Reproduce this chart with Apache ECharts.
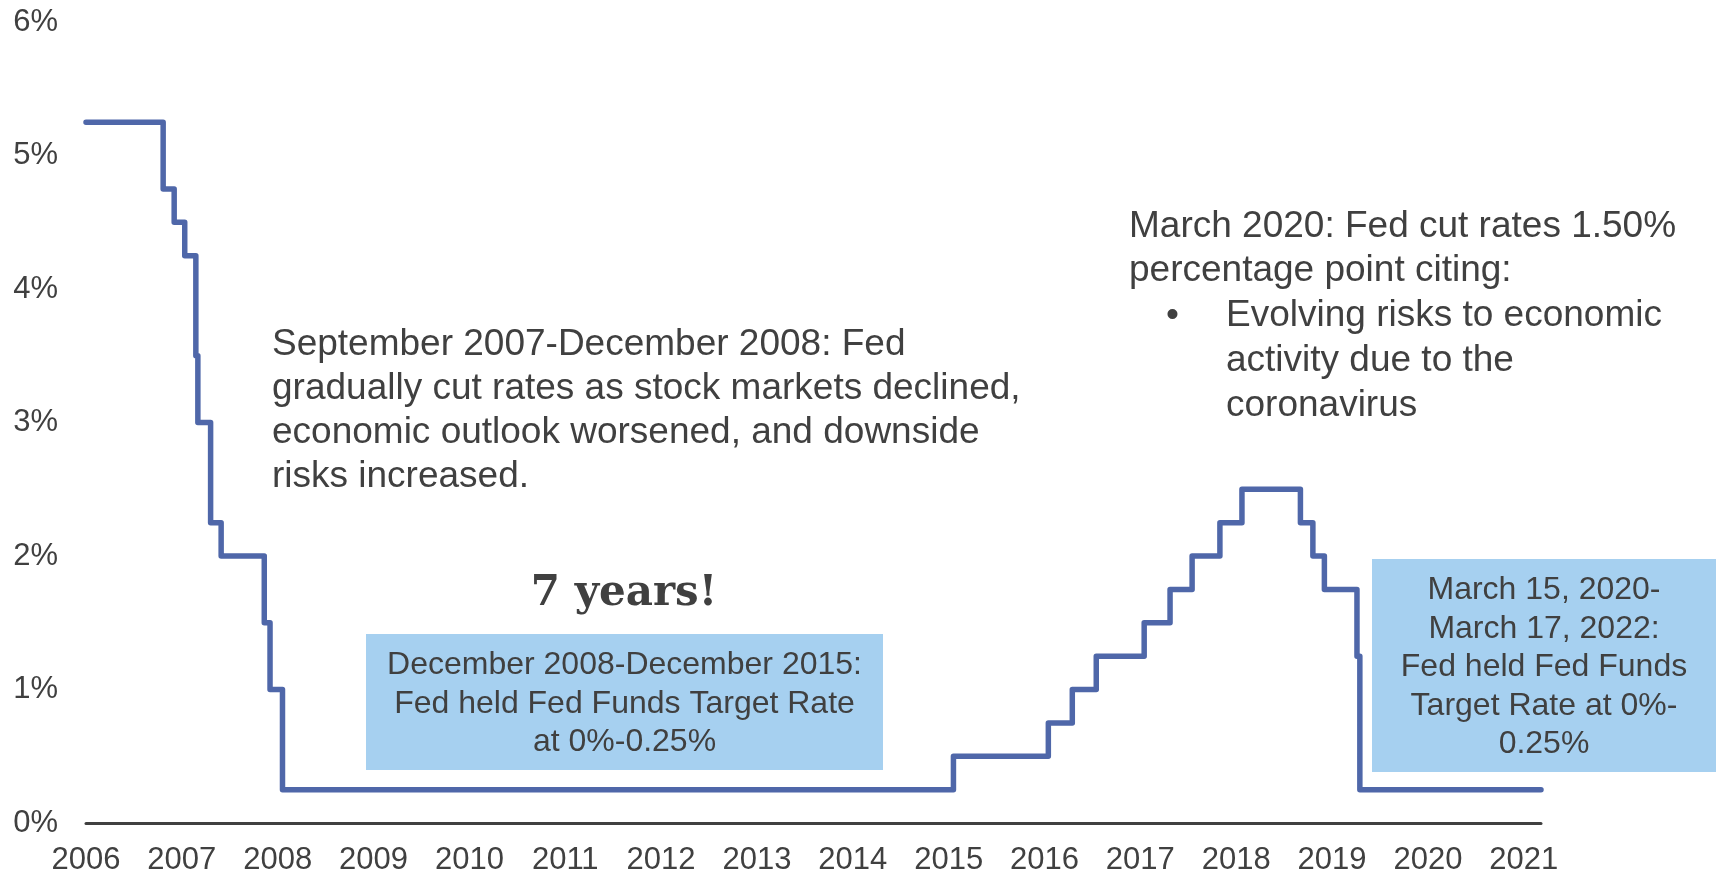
<!DOCTYPE html>
<html>
<head>
<meta charset="utf-8">
<script src="https://cdn.jsdelivr.net/npm/echarts@6/dist/echarts.min.js"></script>
<style>
  html, body { margin: 0; padding: 0; background: #ffffff; }
  #chart { width: 1716px; height: 876px; }
</style>
</head>
<body>
<div id="chart"></div>
<script>
// Fed Funds target rate (upper bound), step changes, x in the chart's year units
const changeDates = [2006.00, 2006.805, 2006.92, 2007.03, 2007.146, 2007.167, 2007.30, 2007.41,
  2007.86, 2007.92, 2008.05, 2015.05, 2016.04, 2016.29, 2016.54, 2017.04, 2017.31, 2017.54,
  2017.83, 2018.06, 2018.67, 2018.80, 2018.92, 2019.26, 2019.29, 2021.18];
const rates = [5.25, 4.75, 4.5, 4.25, 3.5, 3.0, 2.25, 2.0,
  1.5, 1.0, 0.25, 0.5, 0.75, 1.0, 1.25, 1.5, 1.75, 2.0,
  2.25, 2.5, 2.25, 2.0, 1.75, 1.25, 0.25, 0.25];
const yearTicks = [2006, 2007, 2008, 2009, 2010, 2011, 2012, 2013, 2014, 2015, 2016, 2017, 2018, 2019, 2020, 2021];
const yTicks = [0, 1, 2, 3, 4, 5, 6];

const note1 = ['September 2007-December 2008: Fed', 'gradually cut rates as stock markets declined,',
  'economic outlook worsened, and downside', 'risks increased.'];
const note2a = ['March 2020: Fed cut rates 1.50%', 'percentage point citing:'];
const note2b = ['Evolving risks to economic', 'activity due to the', 'coronavirus'];
const box1 = ['December 2008-December 2015:', 'Fed held Fed Funds Target Rate', 'at 0%-0.25%'];
const box2 = ['March 15, 2020-', 'March 17, 2022:', 'Fed held Fed Funds', 'Target Rate at 0%-', '0.25%'];
const bigNote = '7 years!';

const TXT = '#404040';
const FONT = '"Liberation Sans", Arial, sans-serif';
const BOX = '#A6D0F0';

const chart = echarts.init(document.getElementById('chart'), null, { renderer: 'canvas' });
chart.setOption({
  animation: false,
  backgroundColor: '#ffffff',
  grid: { left: 86, right: 175, top: 22, bottom: 53, containLabel: false },
  xAxis: {
    type: 'value', min: yearTicks[0], max: 2021.18, interval: 1,
    axisLine: { show: true, onZero: true, lineStyle: { color: '#404040', width: 3 } },
    axisTick: { show: false }, splitLine: { show: false },
    axisLabel: {
      color: TXT, fontSize: 31, fontFamily: FONT, margin: 22, showMaxLabel: true, showMinLabel: true,
      formatter: v => yearTicks.indexOf(Math.round(v * 1000) / 1000) >= 0 ? String(v) : ''
    }
  },
  yAxis: {
    type: 'value', min: yTicks[0], max: yTicks[yTicks.length - 1], interval: 1,
    axisLine: { show: false }, axisTick: { show: false }, splitLine: { show: false },
    axisLabel: { color: TXT, fontSize: 31, fontFamily: FONT, margin: 28, formatter: '{value}%' }
  },
  series: [{
    type: 'line', step: 'end', showSymbol: false, silent: true,
    data: changeDates.map((d, i) => [d, rates[i]]),
    lineStyle: { color: '#4F67A9', width: 5.5, cap: 'round', join: 'round' },
    z: 3
  }],
  graphic: [
    { type: 'rect', shape: { x: 366, y: 634, width: 517, height: 136 }, style: { fill: BOX }, z: 1 },
    { type: 'rect', shape: { x: 1372, y: 559, width: 350, height: 213 }, style: { fill: BOX }, z: 1 },
    { type: 'text', x: 624.5, y: 704, z: 10, style: { text: box1.join('\n'), fill: TXT, font: '32px ' + FONT, lineHeight: 38.5, align: 'center', verticalAlign: 'middle' } },
    { type: 'text', x: 1544, y: 667.5, z: 10, style: { text: box2.join('\n'), fill: TXT, font: '32px ' + FONT, lineHeight: 38.5, align: 'center', verticalAlign: 'middle' } },
    { type: 'text', x: 272, y: 322.5, z: 10, style: { text: note1.join('\n'), fill: TXT, font: '37px ' + FONT, lineHeight: 44.2, align: 'left', verticalAlign: 'top' } },
    { type: 'text', x: 1129, y: 204, z: 10, style: { text: note2a.join('\n'), fill: TXT, font: '37px ' + FONT, lineHeight: 44.8, align: 'left', verticalAlign: 'top' } },
    { type: 'text', x: 1166, y: 293.6, z: 10, style: { text: '•', fill: TXT, font: '37px ' + FONT, lineHeight: 44.8, align: 'left', verticalAlign: 'top' } },
    { type: 'text', x: 1226, y: 293.6, z: 10, style: { text: note2b.join('\n'), fill: TXT, font: '37px ' + FONT, lineHeight: 44.8, align: 'left', verticalAlign: 'top' } },
    { type: 'text', x: 624, y: 594, z: 10, style: { text: bigNote, fill: TXT, font: 'bold 42px "DejaVu Serif", serif', align: 'center', verticalAlign: 'middle' } }
  ]
});
</script>
</body>
</html>
